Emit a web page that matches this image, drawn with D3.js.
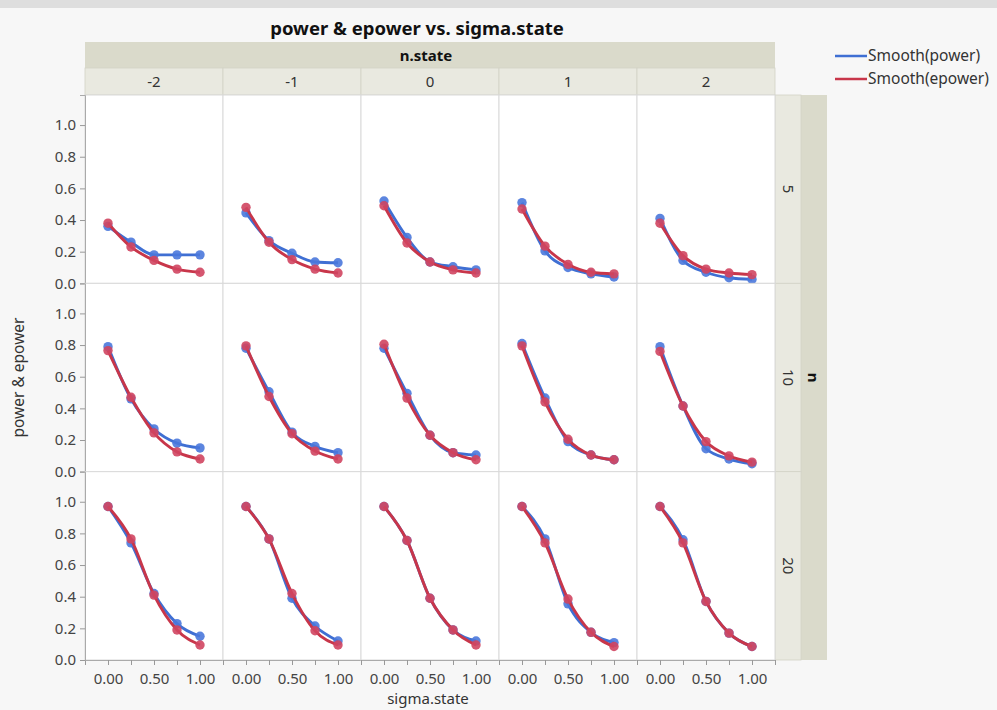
<!DOCTYPE html>
<html>
<head>
<meta charset="utf-8">
<script src="https://cdn.jsdelivr.net/npm/d3@7"></script>
<style>
  body { margin: 0; background: #f7f7f7; }
  svg { display: block; font-family: "Noto Sans", "Open Sans", sans-serif; }
</style>
</head>
<body>
<div id="chart"></div>
<script>
var width = 997,
    height = 710;

// data
var sigmaState = [0, 0.25, 0.5, 0.75, 1];
var nState = [-2, -1, 0, 1, 2];
var nLevels = [5, 10, 20];
var yTicks = [0, 0.2, 0.4, 0.6, 0.8, 1.0];
var xTicks = [-0.25, 0, 0.25, 0.5, 0.75, 1, 1.25];
var xLabels = [0, 0.5, 1];

// one row per n.state column (-2 .. 2), values at sigmaState
var powerN5 = [
  [0.36, 0.26, 0.18, 0.18, 0.18],
  [0.445, 0.27, 0.19, 0.135, 0.13],
  [0.52, 0.29, 0.135, 0.105, 0.085],
  [0.51, 0.205, 0.10, 0.06, 0.04],
  [0.41, 0.145, 0.07, 0.035, 0.025]
];
var epowerN5 = [
  [0.38, 0.23, 0.145, 0.09, 0.07],
  [0.48, 0.26, 0.15, 0.09, 0.065],
  [0.49, 0.255, 0.135, 0.085, 0.065],
  [0.47, 0.235, 0.12, 0.07, 0.06],
  [0.38, 0.175, 0.09, 0.065, 0.055]
];
var powerN10 = [
  [0.79, 0.46, 0.27, 0.18, 0.15],
  [0.78, 0.505, 0.25, 0.16, 0.12],
  [0.78, 0.495, 0.23, 0.12, 0.105],
  [0.81, 0.465, 0.19, 0.105, 0.075],
  [0.79, 0.415, 0.145, 0.08, 0.05]
];
var epowerN10 = [
  [0.765, 0.47, 0.245, 0.125, 0.08],
  [0.795, 0.475, 0.24, 0.13, 0.08],
  [0.805, 0.465, 0.23, 0.12, 0.075],
  [0.795, 0.44, 0.205, 0.105, 0.075],
  [0.76, 0.415, 0.19, 0.10, 0.06]
];
var powerN20 = [
  [0.97, 0.74, 0.42, 0.23, 0.15],
  [0.97, 0.765, 0.39, 0.215, 0.12],
  [0.97, 0.755, 0.39, 0.19, 0.12],
  [0.97, 0.765, 0.355, 0.175, 0.11],
  [0.97, 0.76, 0.37, 0.17, 0.085]
];
var epowerN20 = [
  [0.97, 0.765, 0.41, 0.19, 0.095],
  [0.97, 0.765, 0.42, 0.185, 0.095],
  [0.97, 0.755, 0.39, 0.19, 0.095],
  [0.97, 0.74, 0.385, 0.175, 0.085],
  [0.97, 0.74, 0.37, 0.17, 0.085]
];

var powerRows = [powerN5, powerN10, powerN20];
var epowerRows = [epowerN5, epowerN10, epowerN20];

var series = [
  {name: "Smooth(power)", rows: powerRows, line: "#3f6fd3", dot: "#4a78dc"},
  {name: "Smooth(epower)", rows: epowerRows, line: "#c8364a", dot: "#d04560"}
];

var plot = {left: 85, right: 775, top: 95, bottom: 660};
var colW = (plot.right - plot.left) / nState.length,
    rowH = (plot.bottom - plot.top) / nLevels.length;

var svg = d3.select("#chart").append("svg")
    .attr("width", width)
    .attr("height", height);

svg.append("rect").attr("width", width).attr("height", height).attr("fill", "#f7f7f7");
svg.append("rect").attr("width", width).attr("height", 8).attr("fill", "#dedede");

var x = d3.scaleLinear().domain([-0.25, 1.25]).range([0, colW]);
var y = d3.scaleLinear().domain([0, 1.19]).range([rowH, 0]);

var col = d3.scaleBand().domain(nState).range([plot.left, plot.right]);
var row = d3.scaleBand().domain(nLevels).range([plot.top, plot.bottom]);

// title
svg.append("text")
    .attr("x", 417)
    .attr("y", 35)
    .attr("text-anchor", "middle")
    .attr("font-size", 18.5)
    .attr("font-weight", "bold")
    .attr("fill", "#111")
    .text("power & epower vs. sigma.state");

// top strips
svg.append("rect")
    .attr("x", plot.left).attr("y", 42)
    .attr("width", plot.right - plot.left).attr("height", 26)
    .attr("fill", "#dadacb");
svg.append("text")
    .attr("x", 426).attr("y", 61)
    .attr("text-anchor", "middle")
    .attr("font-size", 15).attr("font-weight", "bold").attr("fill", "#111")
    .text("n.state");

var colStrip = svg.append("g").selectAll("g")
  .data(nState)
  .enter().append("g")
    .attr("transform", function(d) { return "translate(" + col(d) + ",68)"; });
colStrip.append("rect")
    .attr("width", colW).attr("height", plot.top - 68)
    .attr("fill", "#e9e9e0")
    .attr("stroke", "#d2d2c6").attr("stroke-width", 0.8);
colStrip.append("text")
    .attr("x", colW / 2).attr("y", 19)
    .attr("text-anchor", "middle")
    .attr("font-size", 15).attr("fill", "#333")
    .text(function(d) { return d; });

// right strips
svg.append("rect")
    .attr("x", plot.right + 26).attr("y", plot.top)
    .attr("width", 26).attr("height", plot.bottom - plot.top)
    .attr("fill", "#dadacb");
svg.append("text")
    .attr("transform", "translate(" + (plot.right + 33) + "," + ((plot.top + plot.bottom) / 2) + ") rotate(90)")
    .attr("text-anchor", "middle")
    .attr("font-size", 15).attr("font-weight", "bold").attr("fill", "#111")
    .text("n");

var rowStrip = svg.append("g").selectAll("g")
  .data(nLevels)
  .enter().append("g")
    .attr("transform", function(d) { return "translate(" + plot.right + "," + row(d) + ")"; });
rowStrip.append("rect")
    .attr("width", 26).attr("height", rowH)
    .attr("fill", "#e9e9e0")
    .attr("stroke", "#d2d2c6").attr("stroke-width", 0.8);
rowStrip.append("text")
    .attr("transform", "translate(8," + (rowH / 2) + ") rotate(90)")
    .attr("text-anchor", "middle")
    .attr("font-size", 15).attr("fill", "#333")
    .text(function(d) { return d; });

// panels
var line = d3.line()
    .x(function(d) { return x(d[0]); })
    .y(function(d) { return y(d[1]); })
    .curve(d3.curveMonotoneX);

nLevels.forEach(function(n, ri) {
  nState.forEach(function(s, ci) {
    var g = svg.append("g")
        .attr("transform", "translate(" + col(s) + "," + row(n) + ")");
    g.append("rect")
        .attr("width", colW).attr("height", rowH)
        .attr("fill", "#fff")
        .attr("stroke", "#d9d9d9").attr("stroke-width", 1);

    series.forEach(function(sr) {
      var pts = sigmaState.map(function(v, i) { return [v, sr.rows[ri][ci][i]]; });
      g.append("path")
          .datum(pts)
          .attr("fill", "none")
          .attr("stroke", sr.line)
          .attr("stroke-width", 2.9)
          .attr("d", line);
      g.selectAll(null)
        .data(pts)
        .enter().append("circle")
          .attr("cx", function(d) { return x(d[0]); })
          .attr("cy", function(d) { return y(d[1]); })
          .attr("r", 4.7)
          .attr("fill", sr.dot)
          .attr("fill-opacity", 0.9);
    });

    // x axis on the bottom row
    if (ri === nLevels.length - 1) {
      var ax = g.append("g")
          .attr("transform", "translate(0," + rowH + ")")
          .call(d3.axisBottom(x)
            .tickValues(xTicks)
            .tickSize(5)
            .tickPadding(8)
            .tickFormat(function(d) { return xLabels.indexOf(d) >= 0 ? d3.format(".2f")(d) : ""; }));
      ax.select(".domain").attr("stroke", "#aaa");
      ax.selectAll(".tick line").attr("stroke", "#999");
      ax.selectAll("text").attr("font-size", 15).attr("fill", "#444")
          .attr("font-family", "Noto Sans, sans-serif");
    }

    // y axis on the left column
    if (ci === 0) {
      var ay = g.append("g")
          .call(d3.axisLeft(y)
            .tickValues(yTicks)
            .tickSize(5)
            .tickPadding(4)
            .tickFormat(d3.format(".1f")));
      ay.select(".domain").attr("stroke", "#aaa");
      ay.selectAll(".tick line").attr("stroke", "#999");
      ay.selectAll("text").attr("font-size", 15).attr("fill", "#444")
          .attr("font-family", "Noto Sans, sans-serif");
    }
  });
});

// axis titles
svg.append("text")
    .attr("transform", "translate(24," + ((plot.top + plot.bottom) / 2) + ") rotate(-90)")
    .attr("text-anchor", "middle")
    .attr("font-size", 15.5).attr("fill", "#333")
    .text("power & epower");
svg.append("text")
    .attr("x", 428).attr("y", 704)
    .attr("text-anchor", "middle")
    .attr("font-size", 15).attr("fill", "#333")
    .text("sigma.state");

// legend
var legend = svg.append("g")
    .attr("font-size", 15.5)
  .selectAll("g")
  .data(series)
  .enter().append("g")
    .attr("transform", function(d, i) { return "translate(835," + (56 + i * 23) + ")"; });
legend.append("line")
    .attr("x1", 0).attr("x2", 32)
    .attr("stroke", function(d) { return d.line; })
    .attr("stroke-width", 2.5);
legend.append("text")
    .attr("x", 33).attr("dy", "0.35em")
    .attr("fill", "#333")
    .text(function(d) { return d.name; });
</script>
</body>
</html>
